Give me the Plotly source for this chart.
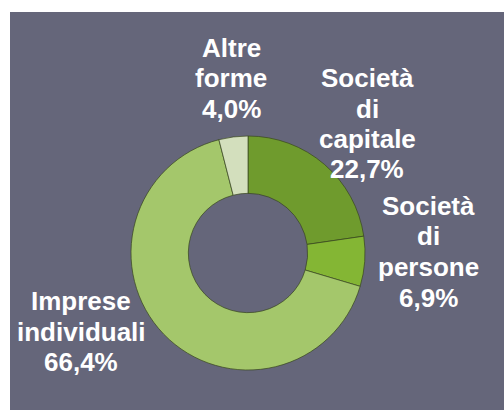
import plotly.graph_objects as go

# Forme giuridiche delle imprese (quote %)
categories = ['Società\ndi\ncapitale', 'Società\ndi\npersone',
              'Imprese\nindividuali', 'Altre\nforme']
shares = [22.7, 6.9, 66.4, 4.0]
colors = ['#6f9b2d', '#84b634', '#a4c76b', '#d3dfbd']

# label anchor (x centre px, first line centre px) for each slice
label_pos = [(367, 78), (428, 206), (81, 301), (231, 48)]
line_step = 30.5

W, H = 504, 410

fig = go.Figure(go.Pie(
    labels=[c.replace('\n', ' ') for c in categories],
    values=shares,
    sort=False,
    direction='clockwise',
    rotation=0,
    hole=0.51,
    marker=dict(colors=colors, line=dict(color='rgba(55,70,30,0.7)', width=1)),
    textinfo='none',
    hoverinfo='label+percent',
    showlegend=False,
    domain=dict(x=[131 / W, 365 / W], y=[40 / H, 274 / H]),
))

# gray panel behind the chart
fig.add_shape(type='rect', xref='paper', yref='paper',
              x0=10 / W, x1=1, y0=0, y1=(H - 12) / H,
              fillcolor='#65667a', line_width=0, layer='below')

for cat, val, (px_x, px_y) in zip(categories, shares, label_pos):
    lines = cat.split('\n') + [f'{val:.1f}'.replace('.', ',') + '%']
    for i, line in enumerate(lines):
        fig.add_annotation(
            x=px_x / W, y=1 - (px_y + i * line_step) / H,
            xref='paper', yref='paper',
            text=f'<b>{line}</b>', showarrow=False,
            xanchor='center', yanchor='middle',
            font=dict(family='Liberation Sans, Arial', size=26, color='white'),
        )

fig.update_layout(
    width=W, height=H,
    margin=dict(l=0, r=0, t=0, b=0),
    paper_bgcolor='white',
)

# drop the default page margin so the figure fills the window
fig.write_html('out.html',
               config={'displayModeBar': False},
               post_script="document.body.style.margin='0';"
                           "document.body.style.overflow='hidden';")
